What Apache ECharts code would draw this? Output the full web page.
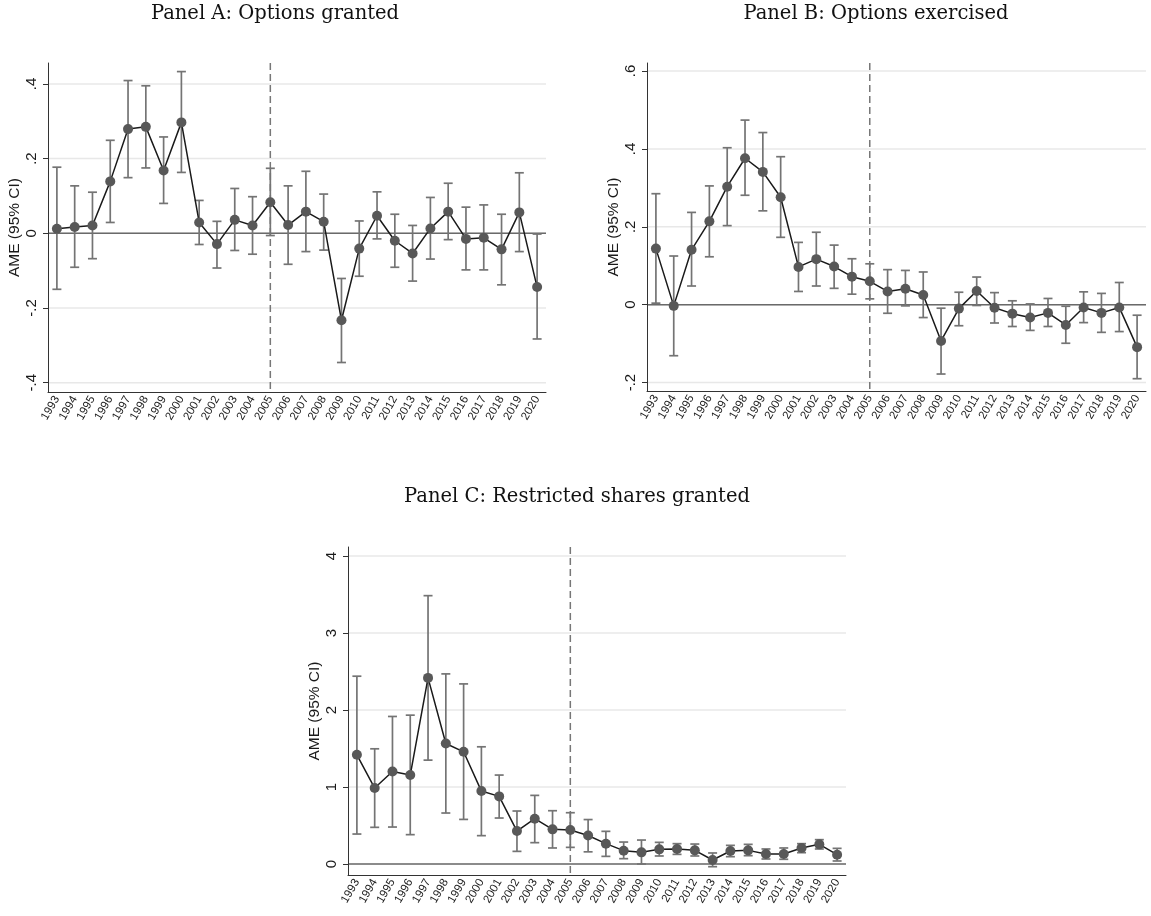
<!DOCTYPE html>
<html><head><meta charset="utf-8">
<script src="https://cdn.jsdelivr.net/npm/echarts@6/dist/echarts.min.js"></script>
<style>html,body{margin:0;padding:0;background:#fff}#c{width:1151px;height:916px}</style>
</head><body><div id="c"></div>
<script>
// ---------- DATA ----------
const years = ['1993','1994','1995','1996','1997','1998','1999','2000','2001','2002','2003','2004','2005','2006',
               '2007','2008','2009','2010','2011','2012','2013','2014','2015','2016','2017','2018','2019','2020'];
const cutoffYear = '2005';

// Panel A: Options granted
const aPoint = [0.012,0.017,0.021,0.139,0.279,0.285,0.168,0.297,0.029,-0.029,0.036,0.021,0.083,0.022,
                0.058,0.031,-0.233,-0.041,0.047,-0.020,-0.054,0.013,0.058,-0.015,-0.012,-0.043,0.056,-0.144];
const aLow   = [-0.150,-0.091,-0.068,0.029,0.149,0.175,0.080,0.163,-0.030,-0.093,-0.046,-0.056,-0.006,-0.083,
                -0.049,-0.045,-0.346,-0.115,-0.015,-0.091,-0.128,-0.069,-0.017,-0.098,-0.098,-0.138,-0.049,-0.283];
const aHigh  = [0.177,0.127,0.110,0.249,0.409,0.395,0.258,0.433,0.088,0.032,0.120,0.098,0.174,0.127,
                0.166,0.105,-0.121,0.033,0.111,0.051,0.021,0.096,0.134,0.070,0.076,0.051,0.162,-0.002];
const aTicks = [-0.4,-0.2,0,0.2,0.4];

// Panel B: Options exercised
const bPoint = [0.144,-0.003,0.141,0.214,0.303,0.376,0.341,0.276,0.097,0.117,0.098,0.072,0.060,0.034,
                0.041,0.025,-0.093,-0.010,0.035,-0.008,-0.023,-0.033,-0.021,-0.052,-0.007,-0.021,-0.007,-0.109];
const bLow   = [0.004,-0.131,0.048,0.123,0.203,0.281,0.241,0.173,0.034,0.048,0.042,0.027,0.015,-0.022,
                -0.003,-0.033,-0.178,-0.054,-0.002,-0.047,-0.056,-0.066,-0.056,-0.099,-0.046,-0.071,-0.069,-0.190];
const bHigh  = [0.285,0.125,0.237,0.305,0.403,0.474,0.442,0.380,0.160,0.186,0.153,0.118,0.105,0.090,
                0.088,0.084,-0.009,0.032,0.071,0.031,0.010,0.002,0.016,-0.004,0.033,0.029,0.057,-0.027];
const bTicks = [-0.2,0,0.2,0.4,0.6];

// Panel C: Restricted shares granted
const cPoint = [1.418,0.986,1.202,1.155,2.417,1.565,1.457,0.947,0.878,0.428,0.588,0.450,0.441,0.370,
                0.264,0.173,0.151,0.190,0.195,0.177,0.052,0.169,0.177,0.130,0.130,0.208,0.255,0.121];
const cLow   = [0.389,0.476,0.480,0.381,1.349,0.662,0.579,0.368,0.597,0.164,0.277,0.208,0.216,0.158,
                0.099,0.069,0.000,0.104,0.125,0.104,-0.035,0.095,0.108,0.065,0.061,0.147,0.195,0.039];
const cHigh  = [2.439,1.496,1.916,1.933,3.485,2.469,2.339,1.522,1.155,0.688,0.891,0.692,0.666,0.577,
                0.424,0.285,0.311,0.281,0.264,0.259,0.143,0.242,0.255,0.195,0.208,0.264,0.316,0.203];
const cTicks = [0,1,2,3,4];

const titles = ['Panel A: Options granted','Panel B: Options exercised','Panel C: Restricted shares granted'];
const yName = 'AME (95% CI)';

// ---------- LAYOUT / STYLE ----------
const panels = [
  {grid:{left:48, top:63, width:498, height:329}, ymin:-0.425, ymax:0.456, ticks:aTicks, p:aPoint, lo:aLow, hi:aHigh, title:[275,14]},
  {grid:{left:647, top:63, width:499, height:328}, ymin:-0.2216, ymax:0.6206, ticks:bTicks, p:bPoint, lo:bLow, hi:bHigh, title:[876,14]},
  {grid:{left:348, top:547, width:498, height:328}, ymin:-0.143, ymax:4.117, ticks:cTicks, p:cPoint, lo:cLow, hi:cHigh, title:[577,497]}
];

function fmt(v){
  if (Math.abs(v) < 1e-9) return '0';
  let s = String(Math.round(v*1000)/1000);
  s = s.replace(/^0\./,'.').replace(/^-0\./,'-.');
  return s;
}

const grids=[], xAxes=[], yAxes=[], series=[], graphics=[];
panels.forEach((pn, i) => {
  grids.push(Object.assign({containLabel:false}, pn.grid));
  xAxes.push({
    type:'category', gridIndex:i, data:years, boundaryGap:true,
    axisLine:{onZero:false, lineStyle:{color:'#333', width:1}},
    axisTick:{alignWithLabel:true, length:5, lineStyle:{color:'#333'}, interval:0},
    axisLabel:{rotate:60, interval:0, fontSize:11.5, margin:5, color:'#1a1a1a', fontFamily:'Liberation Sans'},
    splitLine:{show:false}
  });
  yAxes.push({
    type:'value', gridIndex:i, min:pn.ymin, max:pn.ymax,
    axisLine:{show:true, lineStyle:{color:'#333', width:1}},
    axisTick:{show:true, length:5, customValues:pn.ticks, lineStyle:{color:'#333'}},
    axisLabel:{customValues:pn.ticks, rotate:90, margin:9, fontSize:15, color:'#1a1a1a', fontFamily:'Liberation Sans', formatter:fmt},
    splitLine:{show:false},
    name:yName, nameLocation:'middle', nameGap:24, nameRotate:90,
    nameTextStyle:{fontSize:15.5, color:'#1a1a1a', fontFamily:'Liberation Sans'}
  });
  const ticks = pn.ticks;
  const cutIdx = years.indexOf(cutoffYear);
  // grid lines, zero line, cutoff line
  series.push({
    type:'custom', xAxisIndex:i, yAxisIndex:i, silent:true, z:0, clip:false,
    data:[[0,0]],
    renderItem:function(params, api){
      const cs = params.coordSys;
      const ch = [];
      ticks.forEach(t => {
        const y = api.coord([0, t])[1];
        ch.push({type:'line', shape:{x1:cs.x, y1:y, x2:cs.x+cs.width, y2:y},
                 style:{stroke:'#e8e8e8', lineWidth:1.5}});
      });
      const y0 = api.coord([0, 0])[1];
      ch.push({type:'line', shape:{x1:cs.x, y1:y0, x2:cs.x+cs.width, y2:y0},
               style:{stroke:'#6a6a6a', lineWidth:1.6}});
      const xc = api.coord([cutIdx, 0])[0];
      ch.push({type:'line', shape:{x1:xc, y1:cs.y, x2:xc, y2:cs.y+cs.height},
               style:{stroke:'#777', lineWidth:1.5, lineDash:[7,4]}});
      return {type:'group', children:ch};
    }
  });
  // error bars
  series.push({
    type:'custom', xAxisIndex:i, yAxisIndex:i, silent:true, z:2,
    encode:{x:0, y:[1,2]},
    data: years.map((yr, k) => [k, pn.lo[k], pn.hi[k]]),
    renderItem:function(params, api){
      const x = api.value(0);
      const p1 = api.coord([x, api.value(1)]), p2 = api.coord([x, api.value(2)]);
      const hw = 4.5;
      const st = {stroke:'#747474', lineWidth:1.7};
      return {type:'group', children:[
        {type:'line', shape:{x1:p1[0], y1:p1[1], x2:p2[0], y2:p2[1]}, style:st},
        {type:'line', shape:{x1:p1[0]-hw, y1:p1[1], x2:p1[0]+hw, y2:p1[1]}, style:st},
        {type:'line', shape:{x1:p2[0]-hw, y1:p2[1], x2:p2[0]+hw, y2:p2[1]}, style:st}
      ]};
    }
  });
  // point estimates
  series.push({
    type:'line', xAxisIndex:i, yAxisIndex:i, z:3, data:pn.p,
    symbol:'circle', symbolSize:10, showSymbol:true,
    itemStyle:{color:'#585858', borderWidth:0},
    lineStyle:{color:'#1a1a1a', width:1.5}
  });
  graphics.push({
    type:'text', x:pn.title[0], y:pn.title[1],
    style:{text:titles[i], fill:'#111', font:'19.5px "DejaVu Serif"', textAlign:'center', textVerticalAlign:'middle'}
  });
});

const chart = echarts.init(document.getElementById('c'), null, {renderer:'canvas'});
chart.setOption({
  animation:false,
  backgroundColor:'#fff',
  grid:grids, xAxis:xAxes, yAxis:yAxes, series:series,
  graphic:graphics
});
</script>
</body></html>
